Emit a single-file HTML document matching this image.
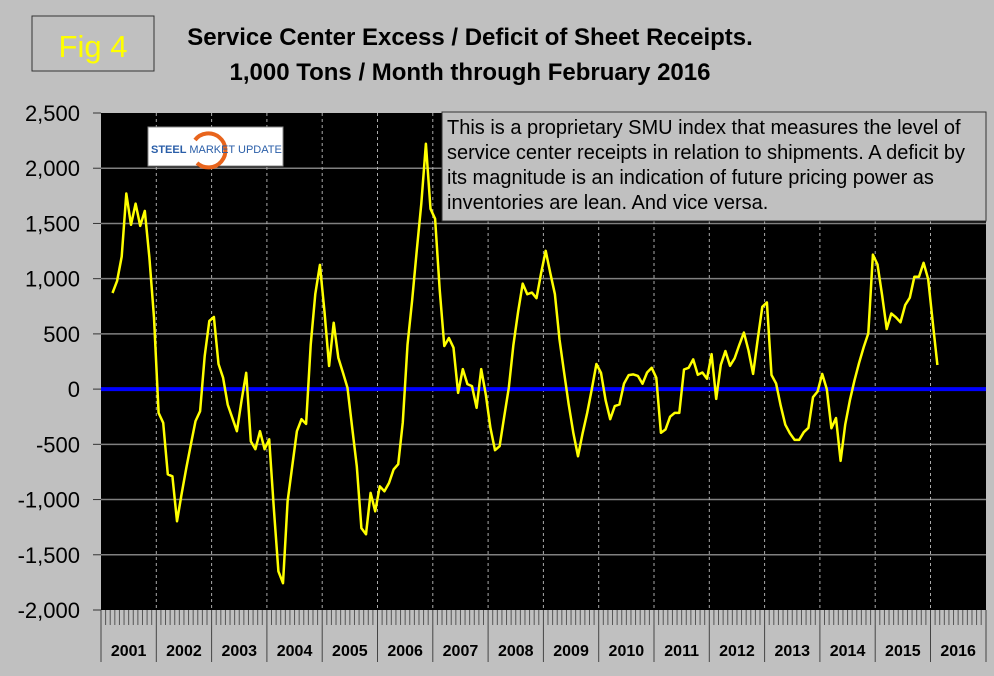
<!DOCTYPE html>
<html><head><meta charset="utf-8"><style>
body{margin:0;background:#c0c0c0;}
#wrap{position:relative;width:994px;height:676px;background:#c0c0c0;font-family:"Liberation Sans",Arial,sans-serif;overflow:hidden}
</style></head><body>
<div id="wrap">
<svg id="chart" width="994" height="676">
  <rect x="32" y="16" width="122" height="55" fill="none" stroke="#333" stroke-width="1"/>
  <text x="93" y="57" text-anchor="middle" font-size="31" fill="#ffff00" font-family="Liberation Sans">Fig 4</text>
  <text x="470" y="45" text-anchor="middle" font-size="24" font-weight="bold" fill="#000" font-family="Liberation Sans">Service Center Excess / Deficit of Sheet Receipts.</text>
  <text x="470" y="80" text-anchor="middle" font-size="24" font-weight="bold" fill="#000" font-family="Liberation Sans">1,000 Tons / Month through February 2016</text>
  <rect x="101" y="113" width="885" height="497" fill="#000"/>
  <g id="grid"></g>
  <g id="xaxis"></g>
  <g id="yaxis"></g>
  <line id="zeroline" x1="101" x2="986" stroke="#0000ff" stroke-width="4"/>
  <polyline id="series" fill="none" stroke="#ffff00" stroke-width="2.5" stroke-linejoin="round"/>
  <g>
    <rect x="148" y="127" width="135" height="39" fill="#fff" stroke="#888" stroke-width="1"/>
    <path d="M195,140 A17,17 0 1 1 197,163" fill="none" stroke="#e8641c" stroke-width="4"/>
    <text x="151" y="153" font-size="11" font-weight="bold" fill="#2a5ea8" font-family="Liberation Sans">STEEL <tspan font-weight="normal">MARKET UPDATE</tspan></text>
  </g>
  <g>
    <rect x="442" y="112" width="544" height="109" fill="#c0c0c0" stroke="#333" stroke-width="1"/>
    <text font-size="20" fill="#000" font-family="Liberation Sans">
      <tspan x="447" y="134">This is a proprietary SMU index that measures the level of</tspan>
      <tspan x="447" y="159">service center receipts in relation to shipments. A deficit by</tspan>
      <tspan x="447" y="184">its magnitude is an indication of future pricing power as</tspan>
      <tspan x="447" y="209">inventories are lean. And vice versa.</tspan>
    </text>
  </g>
</svg>
</div>
<script>
const years = ["2001","2002","2003","2004","2005","2006","2007","2008","2009","2010","2011","2012","2013","2014","2015","2016"];
const yTicks = [2500,2000,1500,1000,500,0,-500,-1000,-1500,-2000];
const yTickLabels = ["2,500","2,000","1,500","1,000","500","0","-500","-1,000","-1,500","-2,000"];
const startMonthIndex = 2;
const values = [870,980,1200,1771,1488,1680,1478,1614,1190,647,
-215,-305,-772,-789,-1197,-950,-714,-500,-290,-200,
300,617,653,227,102,-140,-260,-381,-100,148,
-472,-544,-381,-544,-454,-1077,-1650,-1757,-1016,-700,
-381,-272,-315,400,862,1125,700,209,601,284,
150,12,-350,-700,-1258,-1315,-940,-1106,-880,-925,
-850,-728,-680,-300,400,800,1250,1678,2222,1633,
1542,900,390,463,375,-34,181,45,27,-169,
181,-50,-350,-553,-517,-250,12,400,700,955,
859,874,823,1050,1252,1050,859,450,150,-139,
-400,-608,-400,-215,0,227,148,-100,-272,-154,
-139,50,127,133,120,48,150,193,102,-396,
-366,-250,-215,-215,178,193,269,130,150,94,
317,-89,220,345,211,278,400,512,350,138,
450,745,785,128,51,-150,-322,-400,-460,-460,
-390,-350,-73,-22,138,0,-354,-262,-650,-322,
-100,80,238,380,504,1218,1128,850,544,685,
650,605,762,828,1018,1018,1144,995,600,218];

const NS="http://www.w3.org/2000/svg";
const X0=101, YW=55.3, Y0=113, YH=497, VMAX=2500, VMIN=-2000;
function xScale(m){return X0 + m*YW/12;}
function yScale(v){return Y0 + (VMAX - v)/(VMAX-VMIN)*YH;}
function mk(tag,attrs,parent){const e=document.createElementNS(NS,tag);for(const k in attrs)e.setAttribute(k,attrs[k]);parent.appendChild(e);return e;}
const grid=document.getElementById('grid'), xa=document.getElementById('xaxis'), ya=document.getElementById('yaxis');
yTicks.forEach((t,i)=>{
  const y=yScale(t);
  if(t<VMAX && t>VMIN){const g=mk('line',{x1:X0,x2:986,y1:y,y2:y,stroke:'#808080','stroke-width':1.5},grid);
  
  }
  const tk=mk('line',{x1:93,x2:X0,y1:y,y2:y,stroke:'#333','stroke-width':1},ya);
  
  
  const tx=mk('text',{x:80,y:y+8,'text-anchor':'end','font-size':22,fill:'#000','font-family':'Liberation Sans'},ya);
  tx.textContent=yTickLabels[i];
  
  
});
years.forEach((yr,i)=>{
  const xl=xScale(i*12);
  if(i>0){const d=mk('line',{x1:xl,x2:xl,y1:Y0,y2:610,stroke:'#aaa','stroke-width':1,'stroke-dasharray':'3,3'},grid);
  
  }
  const s=mk('line',{x1:xl,x2:xl,y1:610,y2:662,stroke:'#444','stroke-width':1},xa);
  
  
  for(let m=1;m<12;m++){const xm=xScale(i*12+m);
    const t=mk('line',{x1:xm,x2:xm,y1:610,y2:625,stroke:'#555','stroke-width':1},xa);
    
    }
  const lb=mk('text',{x:xScale(i*12+6),y:656,'text-anchor':'middle','font-size':16,'font-weight':'bold',fill:'#000','font-family':'Liberation Sans'},xa);
  lb.textContent=yr;
  
  
});
const endSep=mk('line',{x1:986,x2:986,y1:610,y2:662,stroke:'#444','stroke-width':1},xa);


const z=document.getElementById('zeroline');z.setAttribute('y1',yScale(0));z.setAttribute('y2',yScale(0));
document.getElementById('series').setAttribute('points',values.map((v,i)=>xScale(startMonthIndex+i+0.5).toFixed(1)+','+yScale(v).toFixed(1)).join(' '));
</script>
</body></html>
